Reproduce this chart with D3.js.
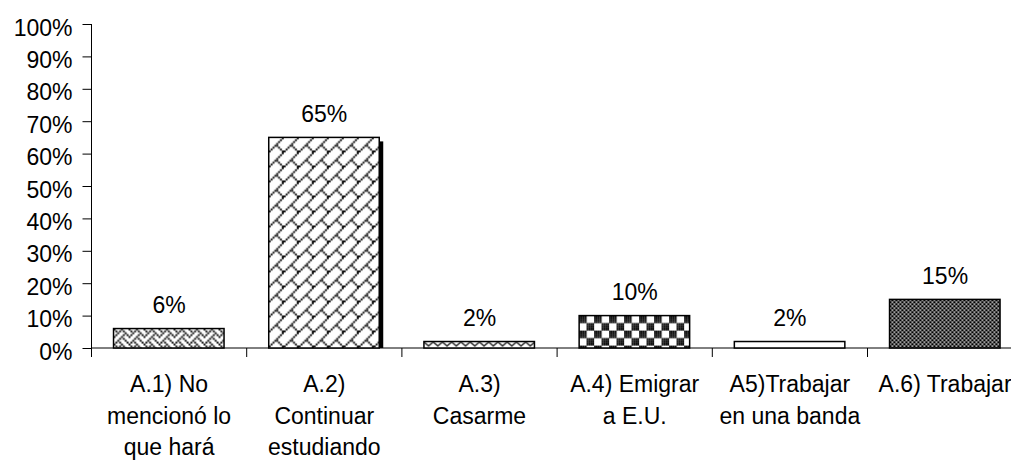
<!DOCTYPE html>
<html>
<head>
<meta charset="utf-8">
<script src="https://cdn.jsdelivr.net/npm/d3@7"></script>
<style>
  body { margin: 0; background: #fff; }
  svg { display: block; font-family: "Liberation Sans", Arial, sans-serif; }
</style>
</head>
<body>
<script>
// DATA
const categories = [
  "A.1) No\nmencionó lo\nque hará",
  "A.2)\nContinuar\nestudiando",
  "A.3)\nCasarme",
  "A.4) Emigrar\na E.U.",
  "A5)Trabajar\nen una banda",
  "A.6) Trabajar"
];
const values = [6, 65, 2, 10, 2, 15];
const yTicks = [0, 10, 20, 30, 40, 50, 60, 70, 80, 90, 100];

// svg + layout
const svg = d3.select("body").append("svg")
    .attr("width", 1011)
    .attr("height", 460);

const plotLeft = 91.5, plotTop = 24, axisY = 348, bandW = 155.2;
const fontSize = 23;

const x = d3.scaleBand()
    .domain(categories)
    .range([plotLeft, plotLeft + bandW * categories.length])
    .padding(0);

const y = d3.scaleLinear()
    .domain([0, 100])
    .range([axisY, plotTop]);

// fill patterns (8x8 bitmaps, like the old office hatch styles)
const defs = svg.append("defs");
const px = 1.875;
const bitmaps = {
  weave:  [0x88, 0x54, 0x22, 0x45, 0x88, 0x14, 0x22, 0x51],
  brick:  [0x01, 0x02, 0x04, 0x08, 0x18, 0x24, 0x42, 0x81],
  checker:[0xF0, 0xF0, 0xF0, 0xF0, 0x0F, 0x0F, 0x0F, 0x0F]
};

function bitmapPattern(id, rows, ox, oy) {
  const p = defs.append("pattern")
      .attr("id", id)
      .attr("patternUnits", "userSpaceOnUse")
      .attr("x", ox).attr("y", oy)
      .attr("width", 8 * px).attr("height", 8 * px);
  p.append("rect").attr("width", 8 * px).attr("height", 8 * px).attr("fill", "#fff");
  rows.forEach((r, i) => {
    for (let c = 0; c < 8; c++) {
      if (r & (0x80 >> c)) {
        p.append("rect")
          .attr("x", c * px).attr("y", i * px)
          .attr("width", px).attr("height", px)
          .attr("fill", "#000");
      }
    }
  });
}

function barX(c) { return x(c) + x.bandwidth() * 0.142; }
const barW = x.bandwidth() * 0.712;

bitmapPattern("p0", bitmaps.weave, barX(categories[0]), y(values[0]));
bitmapPattern("p1", bitmaps.brick, barX(categories[1]), y(values[1]));
bitmapPattern("p3", bitmaps.checker, barX(categories[3]), y(values[3]));

// zigzag for A.3
const zz = defs.append("pattern").attr("id", "p2")
    .attr("patternUnits", "userSpaceOnUse")
    .attr("x", barX(categories[2])).attr("y", y(values[2]))
    .attr("width", 9.25).attr("height", 8);
zz.append("rect").attr("width", 9.25).attr("height", 8).attr("fill", "#fff");
zz.append("path").attr("d", "M0,0.5 L4.6,4.5 L9.25,0.5")
    .attr("fill", "none").attr("stroke", "#000").attr("stroke-width", 1.3);

// small checker for A.6 - mostly dark, white dots
const sc = defs.append("pattern").attr("id", "p5")
    .attr("patternUnits", "userSpaceOnUse")
    .attr("x", barX(categories[5])).attr("y", y(values[5]))
    .attr("width", 4).attr("height", 4);
sc.append("rect").attr("width", 4).attr("height", 4).attr("fill", "#000");
sc.append("rect").attr("width", 1.6).attr("height", 1.6).attr("fill", "#fff");
sc.append("rect").attr("x", 2).attr("y", 2).attr("width", 1.6).attr("height", 1.6).attr("fill", "#fff");

const fills = ["url(#p0)", "url(#p1)", "url(#p2)", "url(#p3)", "#fff", "url(#p5)"];

// y axis
const yAxis = svg.append("g")
    .attr("transform", "translate(" + plotLeft + ",0)")
    .call(d3.axisLeft(y)
      .tickValues(yTicks)
      .tickFormat(d => d + "%")
      .tickSize(9)
      .tickSizeOuter(0)
      .tickPadding(10));
yAxis.select(".domain").attr("d", "M0," + plotTop + "V" + (axisY + 9));
yAxis.selectAll("text")
    .attr("dy", "0.48em")
    .attr("font-size", fontSize)
    .attr("fill", "#000");
yAxis.attr("font-family", null).attr("font-size", null);
yAxis.selectAll("line, path").attr("stroke", "#000");

// x axis line + category boundary ticks
svg.append("line")
    .attr("x1", plotLeft).attr("x2", x.range()[1])
    .attr("y1", axisY).attr("y2", axisY)
    .attr("stroke", "#000");

svg.selectAll(".xtick").data(categories)
  .enter().append("line")
    .attr("class", "xtick")
    .attr("x1", d => x(d) + x.bandwidth()).attr("x2", d => x(d) + x.bandwidth())
    .attr("y1", axisY).attr("y2", axisY + 9)
    .attr("stroke", "#000");

// shadow edge on the tall bar
svg.append("rect")
    .attr("x", barX(categories[1]) + barW)
    .attr("y", y(values[1]) + 4)
    .attr("width", 4)
    .attr("height", axisY - y(values[1]) - 4)
    .attr("fill", "#000");

// bars
svg.selectAll(".bar").data(categories)
  .enter().append("rect")
    .attr("class", "bar")
    .attr("x", d => barX(d))
    .attr("y", (d, i) => y(values[i]))
    .attr("width", barW)
    .attr("height", (d, i) => axisY - y(values[i]))
    .attr("fill", (d, i) => fills[i])
    .attr("stroke", "#000")
    .attr("stroke-width", 1.5);

// value labels
svg.selectAll(".val").data(categories)
  .enter().append("text")
    .attr("class", "val")
    .attr("x", d => x(d) + x.bandwidth() / 2)
    .attr("y", (d, i) => y(values[i]) - 15.5)
    .attr("text-anchor", "middle")
    .attr("font-size", fontSize)
    .text((d, i) => values[i] + "%");

// category labels
const cat = svg.selectAll(".cat").data(categories)
  .enter().append("text")
    .attr("class", "cat")
    .attr("text-anchor", "middle")
    .attr("font-size", fontSize);
cat.selectAll("tspan").data(d => d.split("\n").map(t => ({t, c: d})))
  .enter().append("tspan")
    .attr("x", d => x(d.c) + x.bandwidth() / 2)
    .attr("y", (d, i) => 392 + i * 31.5)
    .text(d => d.t);
</script>
</body>
</html>
